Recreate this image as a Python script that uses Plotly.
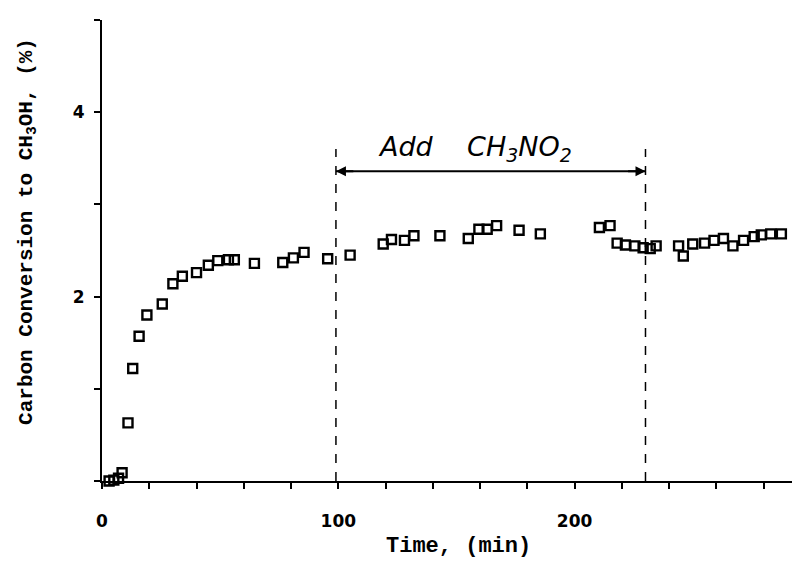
import plotly.graph_objects as go

time_min = [3, 5, 7, 8.5, 11, 13, 15.7, 19, 25.5, 30, 34, 40, 45, 49, 53.5, 56, 64.5,
            76.5, 81, 85.5, 95.5, 105, 119, 122.5, 128, 132, 143, 155, 159.5, 163, 167,
            176.5, 185.5, 210.5, 215, 218, 221.5, 225.5, 229, 232, 234.5, 244, 246, 250,
            255, 259, 263, 267, 271.5, 276, 279, 283, 287.5]
conversion = [0.0, 0.01, 0.03, 0.09, 0.63, 1.22, 1.57, 1.80, 1.92, 2.14, 2.22, 2.26, 2.34,
              2.39, 2.40, 2.40, 2.36, 2.37, 2.42, 2.48, 2.41, 2.45, 2.57, 2.62, 2.61, 2.66,
              2.66, 2.63, 2.73, 2.73, 2.77, 2.72, 2.68, 2.75, 2.77, 2.58, 2.56, 2.55, 2.53,
              2.52, 2.55, 2.55, 2.44, 2.57, 2.58, 2.61, 2.63, 2.55, 2.61, 2.65, 2.67, 2.68,
              2.68]

add_start, add_end = 99, 230
arrow_level = 3.36
line_top = 3.6

x_tickvals = list(range(0, 281, 20))
x_ticktext = [str(v) if v in (0, 100, 200) else "" for v in x_tickvals]
y_tickvals = [0, 1, 2, 3, 4, 5]
y_ticktext = ["", "", "2", "", "4", ""]

fig = go.Figure()
fig.add_trace(go.Scatter(
    x=time_min, y=conversion, mode="markers",
    marker=dict(symbol="square-open", size=9, color="black", line=dict(width=2.4)),
    showlegend=False, cliponaxis=False,
))

for xv in (add_start, add_end):
    fig.add_shape(type="line", x0=xv, x1=xv, y0=0, y1=line_top,
                  line=dict(color="black", width=1.5, dash="dash"))

fig.add_shape(type="line", x0=add_start, x1=add_end, y0=arrow_level, y1=arrow_level,
              line=dict(color="black", width=2))
fig.add_annotation(x=add_start, y=arrow_level, ax=add_start + 8, ay=arrow_level,
                   axref="x", ayref="y", xref="x", yref="y", text="",
                   showarrow=True, arrowhead=2, arrowsize=1, arrowwidth=2, arrowcolor="black")
fig.add_annotation(x=add_end, y=arrow_level, ax=add_end - 8, ay=arrow_level,
                   axref="x", ayref="y", xref="x", yref="y", text="",
                   showarrow=True, arrowhead=2, arrowsize=1, arrowwidth=2, arrowcolor="black")
fig.add_annotation(x=158, y=3.61, xref="x", yref="y", xanchor="center", yanchor="middle",
                   text="<i>Add&nbsp;&nbsp;&nbsp;&nbsp;CH<sub>3</sub>NO<sub>2</sub></i>",
                   showarrow=False, font=dict(family="DejaVu Sans", size=27, color="black"))

fig.add_annotation(x=-0.109, y=0.542, xref="paper", yref="paper", textangle=-90,
                   xanchor="center", yanchor="middle",
                   text="Carbon Conversion to CH<sub>3</sub>OH, (%)", showarrow=False,
                   font=dict(family="Liberation Mono", size=21, color="black", weight="bold"))
fig.add_annotation(x=0.517, y=-0.143, xref="paper", yref="paper",
                   xanchor="center", yanchor="middle",
                   text="Time, (min)", showarrow=False,
                   font=dict(family="Liberation Mono", size=22, color="black", weight="bold"))

fig.update_xaxes(range=[0, 292], showline=True, linecolor="black", linewidth=2,
                 showgrid=False, zeroline=False, ticks="outside", ticklen=6, tickwidth=2,
                 tickcolor="black", tickvals=x_tickvals, ticktext=x_ticktext,
                 ticklabelstandoff=18,
                 tickfont=dict(family="DejaVu Sans", size=17, color="black", weight="bold"))
fig.update_yaxes(range=[0, 5], showline=True, linecolor="black", linewidth=2,
                 showgrid=False, zeroline=False, ticks="outside", ticklen=6, tickwidth=2,
                 tickcolor="black", tickvals=y_tickvals, ticktext=y_ticktext,
                 ticklabelstandoff=6,
                 tickfont=dict(family="DejaVu Sans", size=17, color="black", weight="bold"))

fig.update_layout(width=801, height=567, margin=dict(l=94, r=17, t=12, b=94),
                  plot_bgcolor="white", paper_bgcolor="white")
fig.write_html("out.html")
